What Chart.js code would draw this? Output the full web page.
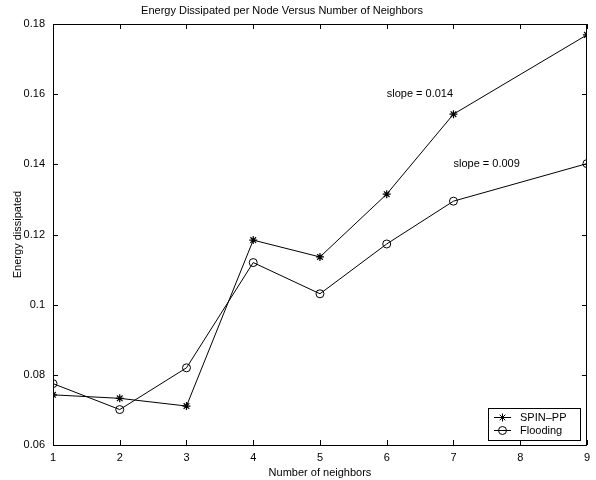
<!DOCTYPE html>
<html>
<head>
<meta charset="utf-8">
<script src="https://cdn.jsdelivr.net/npm/chart.js@4.4.1/dist/chart.umd.min.js"></script>
<style>
  html, body { margin: 0; padding: 0; background: #fff; }
</style>
</head>
<body>
<canvas id="energyChart" width="596" height="480"></canvas>
<script>
// data (no point at 8 neighbors)
const neighbors = [1, 2, 3, 4, 5, 6, 7, 9];
const spinPP = [0.0743, 0.0733, 0.0711, 0.1184, 0.1136, 0.1315, 0.1543, 0.1769];
const flooding = [0.0775, 0.0701, 0.0820, 0.1120, 0.1031, 0.1173, 0.1295, 0.1402];
const xTicks = [1, 2, 3, 4, 5, 6, 7, 8, 9];
const yTicks = [0.06, 0.08, 0.1, 0.12, 0.14, 0.16, 0.18];
const slopeNotes = [
  { x: 6, y: 0.16, text: 'slope = 0.014' },
  { x: 7, y: 0.14, text: 'slope = 0.009' }
];
const seriesNames = ['SPIN\u2013PP', 'Flooding'];

const FONT = '11px "Liberation Sans", Arial, Helvetica, sans-serif';

function toPoints(ys) {
  return neighbors.map((n, i) => ({ x: n, y: ys[i] }));
}

function drawMarker(ctx, style, x, y) {
  ctx.beginPath();
  if (style === 'star') {
    const r = 4, d = r * Math.SQRT1_2;
    ctx.moveTo(x - r, y); ctx.lineTo(x + r, y);
    ctx.moveTo(x, y - r); ctx.lineTo(x, y + r);
    ctx.moveTo(x - d, y - d); ctx.lineTo(x + d, y + d);
    ctx.moveTo(x - d, y + d); ctx.lineTo(x + d, y - d);
  } else {
    ctx.arc(x, y, 4, 0, Math.PI * 2);
  }
  ctx.stroke();
}

// MATLAB-like box with inward ticks, title, slope notes and legend
const matlabLook = {
  id: 'matlabLook',
  afterDatasetsDraw(chart) {
    const { ctx, chartArea: a, scales } = chart;
    const xs = scales.x, ys = scales.y;
    ctx.save();
    ctx.strokeStyle = '#000';
    ctx.lineWidth = 1;
    ctx.strokeRect(Math.round(a.left) + 0.5, Math.round(a.top) + 0.5,
      Math.round(a.right - a.left) - 1, Math.round(a.bottom - a.top));
    ctx.beginPath();
    xTicks.forEach(t => {
      const px = Math.round(xs.getPixelForValue(t)) + 0.5;
      ctx.moveTo(px, a.bottom); ctx.lineTo(px, a.bottom - 5);
      ctx.moveTo(px, a.top); ctx.lineTo(px, a.top + 5);
    });
    yTicks.forEach(t => {
      const py = Math.round(ys.getPixelForValue(t)) + 0.5;
      ctx.moveTo(a.left, py); ctx.lineTo(a.left + 5, py);
      ctx.moveTo(a.right, py); ctx.lineTo(a.right - 5, py);
    });
    ctx.stroke();

    ctx.fillStyle = '#000';
    ctx.font = FONT;
    ctx.textBaseline = 'middle';
    ctx.textAlign = 'left';
    slopeNotes.forEach(n => {
      ctx.fillText(n.text, xs.getPixelForValue(n.x), ys.getPixelForValue(n.y));
    });

    ctx.textAlign = 'center';
    ctx.fillText('Energy Dissipated per Node Versus Number of Neighbors', 282, 11);

    // legend
    const lx = 488.5, ly = 408.5, lw = 92, lh = 32;
    ctx.fillStyle = '#fff';
    ctx.fillRect(lx, ly, lw, lh);
    ctx.strokeRect(lx, ly, lw, lh);
    ctx.fillStyle = '#000';
    ctx.textAlign = 'left';
    chart.data.datasets.forEach((ds, i) => {
      const yy = 417.5 + i * 13;
      ctx.beginPath();
      ctx.moveTo(494, yy); ctx.lineTo(511, yy);
      ctx.stroke();
      drawMarker(ctx, ds.pointStyle, 502.5, yy);
      ctx.fillText(ds.label, 520, yy);
    });
    ctx.restore();
  }
};

new Chart(document.getElementById('energyChart'), {
  type: 'line',
  data: {
    datasets: [
      {
        label: seriesNames[0],
        data: toPoints(spinPP),
        borderColor: '#000',
        borderWidth: 1,
        pointStyle: 'star',
        pointRadius: 4,
        pointBorderColor: '#000',
        pointBorderWidth: 1.2,
        fill: false,
        tension: 0
      },
      {
        label: seriesNames[1],
        data: toPoints(flooding),
        borderColor: '#000',
        borderWidth: 1,
        pointStyle: 'circle',
        pointRadius: 4,
        pointBackgroundColor: 'rgba(0,0,0,0)',
        pointBorderColor: '#000',
        pointBorderWidth: 1,
        fill: false,
        tension: 0
      }
    ]
  },
  options: {
    responsive: false,
    animation: false,
    layout: { padding: { top: 24, right: 7, left: 0, bottom: 0 } },
    plugins: {
      legend: { display: false },
      title: { display: false },
      tooltip: { enabled: false }
    },
    scales: {
      x: {
        type: 'linear',
        min: 1,
        max: 9,
        afterFit: s => { s.height = 35; },
        afterBuildTicks: s => { s.ticks = xTicks.map(v => ({ value: v })); },
        grid: { display: false, drawTicks: false },
        border: { display: false },
        ticks: { color: '#000', font: { family: '"Liberation Sans", Arial', size: 11 }, padding: 6, maxRotation: 0 },
        title: {
          display: true,
          text: 'Number of neighbors',
          color: '#000',
          font: { family: '"Liberation Sans", Arial', size: 11 },
          padding: { top: 0, bottom: 0 }
        }
      },
      y: {
        min: 0.06,
        max: 0.18,
        afterFit: s => { s.width = 53; },
        afterBuildTicks: s => { s.ticks = yTicks.map(v => ({ value: v })); },
        grid: { display: false, drawTicks: false },
        border: { display: false },
        ticks: {
          color: '#000',
          font: { family: '"Liberation Sans", Arial', size: 11 },
          padding: 8,
          callback: v => String(+v.toFixed(2))
        },
        title: {
          display: true,
          text: 'Energy dissipated',
          color: '#000',
          font: { family: '"Liberation Sans", Arial', size: 11 },
          padding: { top: 11, bottom: 0 }
        }
      }
    }
  },
  plugins: [matlabLook]
});
</script>
</body>
</html>
